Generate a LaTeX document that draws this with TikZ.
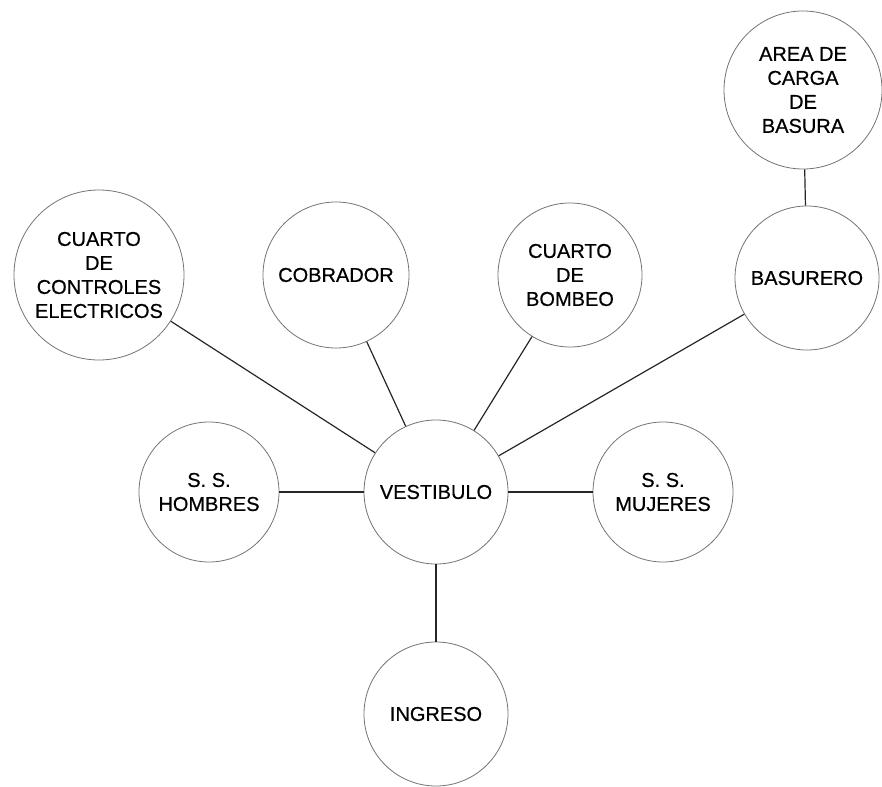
\documentclass[tikz,border=0pt]{standalone}
\usepackage{fontspec}
\setmainfont{Liberation Sans}[FakeBold=0.6]
\usetikzlibrary{calc}

\begin{document}
\begin{tikzpicture}[x=1pt, y=-1pt,
  room/.style={circle, draw=black!55, line width=0.8pt, inner sep=0pt, align=center,
    font=\fontsize{20}{24}\selectfont},
  link/.style={black!85, line width=1.2pt}]
  \def\vy{492}
  \def\ty{275}

  % Fixed bounding box
  \path[use as bounding box] (0,0) rectangle (882,786);

  % Central hall and the rooms round it
  \node[room, minimum size=144pt] (vest) at (436,\vy) {VESTIBULO};
  \node[room, minimum size=140pt] (hom) at (209,\vy) {S. S.\\HOMBRES};
  \node[room, minimum size=140pt] (muj) at (663,\vy) {S. S.\\MUJERES};
  \node[room, minimum size=144pt] (ing) at (436,714) {INGRESO};

  % Upper row
  \node[room, minimum size=170pt] (ctrl) at (99,\ty) {CUARTO\\DE\\CONTROLES\\ELECTRICOS};
  \node[room, minimum size=146pt] (cobr) at (336,\ty) {COBRADOR};
  \node[room, minimum size=144pt] (bomb) at (570,\ty) {CUARTO\\DE\\BOMBEO};
  \node[room, minimum size=144pt] (basu) at (807,278) {BASURERO};
  \node[room, minimum size=158pt] (area) at (803,90) {AREA DE\\CARGA\\DE\\BASURA};

  % Links from the hall
  \foreach \n in {hom,muj,ing,ctrl,cobr,bomb,basu} {
    \draw[link] (vest) -- (\n);
  }
  \draw[link] (basu) -- (area);

\end{tikzpicture}
\end{document}
